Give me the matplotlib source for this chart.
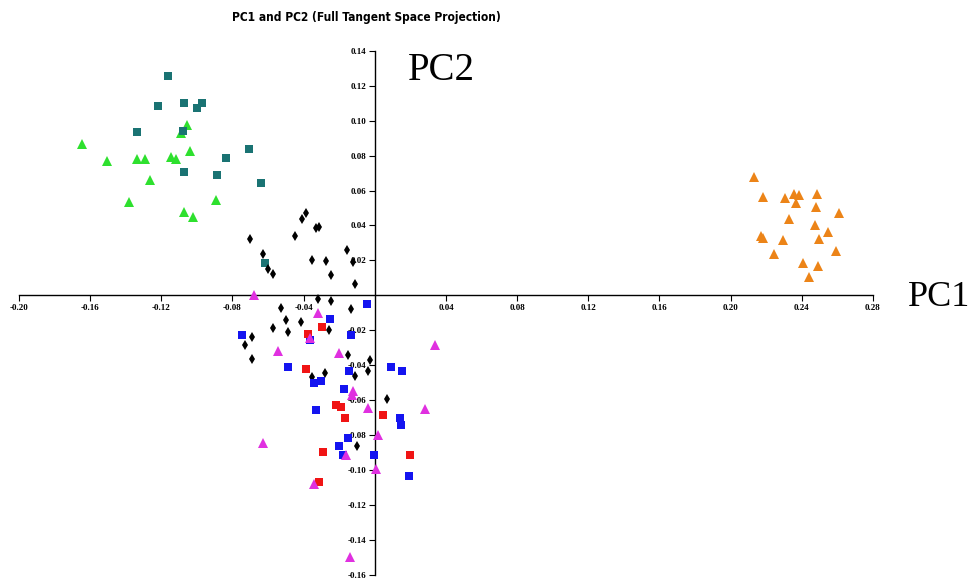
import matplotlib
matplotlib.use("Agg")
import matplotlib.pyplot as plt
from matplotlib import font_manager

plt.rcParams['axes.unicode_minus'] = False

# ---- data ----
teal_x = [-0.1165, -0.1221, -0.1072, -0.0974, -0.1002, -0.1334, -0.1078, -0.0708,
          -0.0838, -0.1075, -0.0888, -0.0641, -0.0619]
teal_y = [0.1254, 0.1083, 0.1098, 0.1098, 0.1070, 0.0936, 0.0942, 0.0837,
          0.0784, 0.0704, 0.0689, 0.0645, 0.0186]

green_x = [-0.1645, -0.1503, -0.1338, -0.1291, -0.1143, -0.1119, -0.1040, -0.1058,
           -0.1087, -0.1265, -0.1383, -0.1075, -0.1021, -0.0894]
green_y = [0.0864, 0.0770, 0.0780, 0.0778, 0.0790, 0.0780, 0.0827, 0.0974,
           0.0930, 0.0660, 0.0534, 0.0479, 0.0447, 0.0546]

orange_x = [0.2132, 0.2183, 0.2305, 0.2357, 0.2385, 0.2483, 0.2367, 0.2477, 0.2608,
            0.2329, 0.2473, 0.2548, 0.2168, 0.2183, 0.2295, 0.2497, 0.2243, 0.2592,
            0.2404, 0.2490, 0.2440]
orange_y = [0.0679, 0.0565, 0.0559, 0.0578, 0.0573, 0.0578, 0.0527, 0.0504, 0.0470,
            0.0435, 0.0403, 0.0363, 0.0340, 0.0327, 0.0317, 0.0321, 0.0237, 0.0256,
            0.0184, 0.0170, 0.0107]

black_x = [-0.0388, -0.0409, -0.0315, -0.0328, -0.0703, -0.0446, -0.0156, -0.0631,
           -0.0351, -0.0277, -0.0122, -0.0603, -0.0575, -0.0248, -0.0112,
           -0.0322, -0.0245, -0.0526, -0.0135, -0.0498, -0.0413, -0.0571, -0.0490,
           -0.0257, -0.0688, -0.0731, -0.0688, -0.0150, -0.0028, -0.0037, -0.0280,
           -0.0354, -0.0112, 0.0066, -0.0103]
black_y = [0.0470, 0.0437, 0.0393, 0.0384, 0.0322, 0.0342, 0.0262, 0.0235,
           0.0203, 0.0199, 0.0190, 0.0151, 0.0122, 0.0116, 0.0064,
           -0.0021, -0.0035, -0.0070, -0.0080, -0.0142, -0.0150, -0.0187, -0.0208,
           -0.0199, -0.0237, -0.0283, -0.0362, -0.0341, -0.0368, -0.0431, -0.0447,
           -0.0469, -0.0463, -0.0591, -0.0863]

blue_x = [-0.0045, -0.0253, -0.0136, -0.0748, -0.0366, -0.0487, -0.0143, -0.0340,
          -0.0300, 0.0091, 0.0154, -0.0172, -0.0333, 0.0141, 0.0146, -0.0149,
          -0.0202, -0.0181, -0.0006, 0.0192]
blue_y = [-0.0047, -0.0135, -0.0224, -0.0227, -0.0253, -0.0408, -0.0433, -0.0500,
          -0.0490, -0.0408, -0.0433, -0.0536, -0.0654, -0.0703, -0.0739, -0.0816,
          -0.0863, -0.0914, -0.0914, -0.1034]

red_x = [-0.0296, -0.0378, -0.0388, -0.0217, -0.0188, -0.0167, 0.0046, -0.0294,
         0.0198, -0.0313]
red_y = [-0.0179, -0.0219, -0.0419, -0.0626, -0.0640, -0.0699, -0.0685, -0.0894,
         -0.0914, -0.1069]

magenta_x = [-0.0678, -0.0319, -0.0363, -0.0543, -0.0201, 0.0337, -0.0122, -0.0128,
             -0.0037, 0.0281, -0.0628, 0.0016, -0.0164, 0.0008, -0.0344, -0.0140]
magenta_y = [0.0004, -0.0101, -0.0246, -0.0317, -0.0327, -0.0283, -0.0547, -0.0571,
             -0.0643, -0.0651, -0.0844, -0.0797, -0.0914, -0.0991, -0.1080, -0.1499]

x_ticks = [-0.20, -0.16, -0.12, -0.08, -0.04, 0.04, 0.08, 0.12, 0.16, 0.20, 0.24, 0.28]
x_tick_labels = ["-0.20", "-0.16", "-0.12", "-0.08", "-0.04", "0.04", "0.08",
                 "0.12", "0.16", "0.20", "0.24", "0.28"]
y_ticks = [0.14, 0.12, 0.10, 0.08, 0.06, 0.04, 0.02, -0.02, -0.04, -0.06, -0.08,
           -0.10, -0.12, -0.14, -0.16]
y_tick_labels = ["0.14", "0.12", "0.10", "0.08", "0.06", "0.04", "0.02", "-0.02",
                 "-0.04", "-0.06", "-0.08", "-0.10", "-0.12", "-0.14", "-0.16"]

title = "PC1 and PC2 (Full Tangent Space Projection)"

# ---- figure ----
W, H = 974, 583
fig = plt.figure(figsize=(W / 100, H / 100), dpi=100)
x0, x1 = 19, 873
y_top, y_bot = 50.7, 575
ax = fig.add_axes([x0 / W, 1 - y_bot / H, (x1 - x0) / W, (y_bot - y_top) / H])
ax.set_xlim(-0.20, 0.28)
ax.set_ylim(-0.16, 0.14)

for s in ['top', 'right']:
    ax.spines[s].set_visible(False)
ax.spines['left'].set_position(('data', 0))
ax.spines['bottom'].set_position(('data', 0))
ax.spines['left'].set_linewidth(1.0)
ax.spines['bottom'].set_linewidth(1.0)

tick_font = dict(family='Liberation Serif', weight='bold', size=6.5)
ax.set_xticks(x_ticks)
ax.set_xticklabels(x_tick_labels, **tick_font)
ax.set_yticks(y_ticks)
ax.set_yticklabels(y_tick_labels, **tick_font)
ax.tick_params(axis='x', direction='out', length=4, width=0.8, pad=2)
ax.tick_params(axis='y', direction='out', length=4, width=0.8, pad=2)

ms = 6.0
ax.plot(green_x, green_y, '^', color='#2ee02e', markersize=ms + 0.5, markeredgewidth=0, zorder=3)
ax.plot(teal_x, teal_y, 's', color='#1a7373', markersize=ms, markeredgewidth=0, zorder=3)
ax.plot(orange_x, orange_y, '^', color='#ec8418', markersize=ms + 0.5, markeredgewidth=0, zorder=3)
ax.plot(black_x, black_y, 'd', color='black', markersize=5.5, markeredgewidth=0, zorder=3)
ax.plot(blue_x, blue_y, 's', color='#1414f0', markersize=ms, markeredgewidth=0, zorder=3)
ax.plot(red_x, red_y, 's', color='#f01414', markersize=ms, markeredgewidth=0, zorder=3)
ax.plot(magenta_x, magenta_y, '^', color='#e030e0', markersize=ms + 0.5, markeredgewidth=0, zorder=4)

# title: prefer a condensed face if one is installed, fit to the reference width
title_props = dict(family='Liberation Sans', weight='bold')
try:
    fp = font_manager.FontProperties(family='DejaVu Sans', weight='bold', stretch='condensed')
    path = font_manager.findfont(fp, fallback_to_default=False)
    if 'ondensed' in path:
        title_props = dict(family='DejaVu Sans', weight='bold', stretch='condensed')
except Exception:
    pass

t = fig.text(366 / W, 1 - 18 / H, title, ha='center', va='center', size=9, **title_props)
renderer = fig.canvas.get_renderer()
target_w = 268.0
for _ in range(3):
    bb = t.get_window_extent(renderer=renderer)
    t.set_fontsize(t.get_fontsize() * target_w / bb.width)

fig.text(408 / W, 1 - 71 / H, "PC2", ha='left', va='center',
         family='Liberation Serif', size=28)
fig.text(908 / W, 1 - 298 / H, "PC1", ha='left', va='center',
         family='Liberation Serif', size=26)

fig.savefig("out.png", dpi=100)
